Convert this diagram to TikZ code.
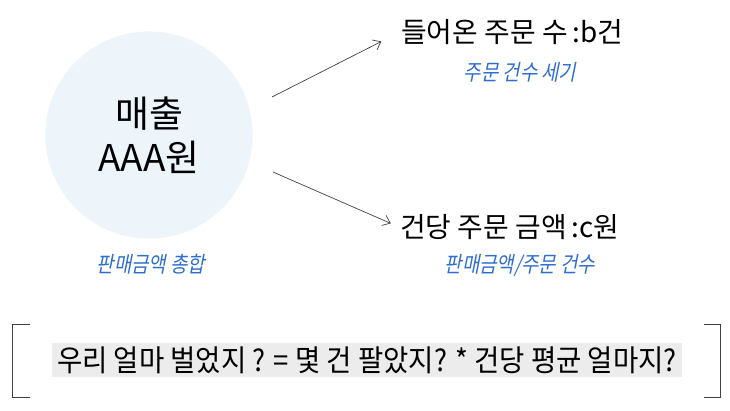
\documentclass[tikz,border=0pt]{standalone}
\usepackage{fontspec}
\setmainfont{Noto Sans CJK KR}
\newfontfamily\krslant[FakeSlant=0.2,FakeStretch=0.86]{Noto Sans CJK KR}
\newfontfamily\krnarrow[FakeStretch=0.92]{Noto Sans CJK KR}
\usepackage{xcolor}
\definecolor{krblue}{RGB}{47,110,208}
\definecolor{krsky}{RGB}{237,244,250}
\definecolor{krgray}{RGB}{236,236,236}
\definecolor{krline}{RGB}{64,64,64}
\usetikzlibrary{arrows.meta,positioning}

\begin{document}
\begin{tikzpicture}[x=1bp,y=-1bp,
  note/.style={font=\krslant\fontsize{22}{24}\selectfont,text=krblue},
  big/.style={font=\fontsize{28}{32}\selectfont,inner sep=1pt,anchor=west},
  arr/.style={-{Straight Barb[length=7pt,width=11pt]},krline,line width=0.7pt}]
  \useasboundingbox (0,0) rectangle (730,410);
  % total sales
  \node[circle,fill=krsky,minimum size=208,align=center,
        font=\fontsize{37}{44}\selectfont] (sales) at (149,135) {매출\\AAA원};
  \node[note] (salesnote) at (151,264) {판매금액 총합};
  % orders and average per order
  \node[big] (orders) at (400,32) {들어온 주문 수\,:b건};
  \node[note] (ordersnote) at (520,72) {주문 건수 세기};
  \node[big] (avg) at (399,227) {건당 주문 금액\,:c원};
  \node[note] (avgnote) at (520,265) {판매금액/주문 건수};
  \coordinate (upstart) at (272,97);
  \coordinate (downstart) at (273,172);
  \draw[arr,shorten >=21] (upstart) -- (orders.west);
  \draw[arr,shorten >=9] (downstart) -- (avg.west);
  % formula
  \node[fill=krgray,minimum width=632,minimum height=35,inner sep=0pt,
        font=\krnarrow\fontsize{30}{32}\selectfont] (formula) at (367,360)
        {우리 얼마 벌었지 ? = 몇 건 팔았지? * 건당 평균 얼마지?};
  \draw[krline,line width=0.8pt] (30,324) -- (12,324) -- (12,397) -- (30,397);
  \draw[krline,line width=0.8pt] (704,324) -- (720,324) -- (720,397) -- (704,397);
\end{tikzpicture}
\end{document}
